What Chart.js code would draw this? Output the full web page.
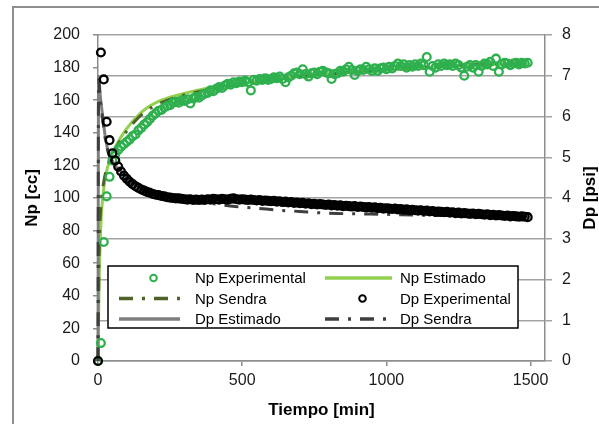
<!DOCTYPE html>
<html>
<head>
<meta charset="utf-8">
<script src="https://cdn.jsdelivr.net/npm/chart.js@4/dist/chart.umd.min.js"></script>
<style>
  html, body { margin: 0; padding: 0; background: #fff; }
  #wrap { width: 599px; height: 424px; }
</style>
</head>
<body>
<div id="wrap"><canvas id="c" width="599" height="424"></canvas></div>
<script>
// Sampling times of the measurements [min]
const timeExp = [
  0, 10, 20, 30, 40, 50, 60, 70, 80, 90,
  100, 110, 120, 130, 140, 150, 160, 170, 180, 190,
  200, 210, 220, 230, 240, 250, 260, 270, 280, 290,
  300, 310, 320, 330, 340, 350, 360, 370, 380, 390,
  400, 410, 420, 430, 440, 450, 460, 470, 480, 490,
  500, 510, 520, 530, 540, 550, 560, 570, 580, 590,
  600, 610, 620, 630, 640, 650, 660, 670, 680, 690,
  700, 710, 720, 730, 740, 750, 760, 770, 780, 790,
  800, 810, 820, 830, 840, 850, 860, 870, 880, 890,
  900, 910, 920, 930, 940, 950, 960, 970, 980, 990,
  1000, 1010, 1020, 1030, 1040, 1050, 1060, 1070, 1080, 1090,
  1100, 1110, 1120, 1130, 1140, 1150, 1160, 1170, 1180, 1190,
  1200, 1210, 1220, 1230, 1240, 1250, 1260, 1270, 1280, 1290,
  1300, 1310, 1320, 1330, 1340, 1350, 1360, 1370, 1380, 1390,
  1400, 1410, 1420, 1430, 1440, 1450, 1460, 1470, 1480, 1490
];

// Produced volume, measured [cc]
const npExp = [
  0, 11, 73, 101, 113, 123, 127, 129.5, 131.5, 133,
  134.5, 136, 138, 139, 141.5, 143, 145, 146.5, 148.5, 150.5,
  152, 153.5, 154, 155.5, 156.5, 157, 158.5, 159, 158.5, 160,
  159.5, 160.5, 158, 161, 162, 161.5, 163, 164, 164.5, 166,
  165.5, 167, 168, 167.5, 169, 170, 169.5, 171, 170.5, 171.5,
  171, 172, 171, 166, 172.5, 172, 173, 172.5, 173.5, 172.5,
  173, 174, 173.5, 174.5, 173, 171, 174, 175, 176.5, 177,
  176, 179, 176, 174.5, 176.5, 177, 176, 177.5, 178, 177,
  176.5, 173, 176, 176.5, 178, 177.5, 179, 180.5, 178.5, 175.5,
  178, 179, 178.5, 180.5, 179, 178, 179.5, 178, 179.5, 180,
  179, 180.5, 179.5, 181, 182.5, 181, 182, 180, 181.5, 180.5,
  182, 181, 182.5, 181.5, 186.5, 177.5, 181, 180, 182, 181,
  182.5, 181.5, 182, 181, 182.5, 181.5, 180, 175, 180.5, 181.5,
  180, 181.5, 177.5, 181, 182.5, 182, 183.5, 181, 185.5, 177.5,
  182, 183, 182.5, 181.5, 182.5, 183, 182, 183, 182.5, 183
];

// Pressure drop, measured [psi]
const dpExp = [
  0, 7.57, 6.91, 5.87, 5.42, 5.10, 4.92, 4.77, 4.65, 4.55,
  4.47, 4.40, 4.34, 4.29, 4.25, 4.21, 4.18, 4.15, 4.13, 4.10,
  4.08, 4.07, 4.05, 4.04, 4.02, 4.01, 4.00, 3.99, 3.99, 3.98,
  3.97, 3.96, 3.97, 3.95, 3.96, 3.95, 3.96, 3.95, 3.97, 3.96,
  3.98, 3.97, 3.96, 3.98, 3.97, 3.96, 3.98, 3.99, 3.97, 3.96,
  3.97, 3.96, 3.95, 3.96, 3.95, 3.94, 3.95, 3.93, 3.94, 3.93,
  3.92, 3.93, 3.91, 3.92, 3.90, 3.91, 3.89, 3.90, 3.88, 3.89,
  3.87, 3.88, 3.86, 3.87, 3.85, 3.86, 3.84, 3.85, 3.84, 3.83,
  3.84, 3.82, 3.83, 3.81, 3.82, 3.80, 3.81, 3.80, 3.79, 3.80,
  3.78, 3.79, 3.78, 3.77, 3.78, 3.76, 3.77, 3.75, 3.76, 3.74,
  3.75, 3.74, 3.73, 3.74, 3.72, 3.73, 3.71, 3.72, 3.70, 3.71,
  3.70, 3.69, 3.70, 3.68, 3.69, 3.67, 3.68, 3.66, 3.67, 3.66,
  3.65, 3.66, 3.64, 3.65, 3.63, 3.64, 3.62, 3.63, 3.62, 3.61,
  3.62, 3.60, 3.61, 3.60, 3.59, 3.60, 3.58, 3.59, 3.57, 3.58,
  3.57, 3.56, 3.57, 3.55, 3.56, 3.55, 3.54, 3.55, 3.54, 3.53
];

// Fitted model (Estimado) and Sendra simulation curves
const timeNpEst = [0, 3, 9, 20, 45, 80, 115, 160, 220, 275, 370, 500, 600, 700, 800, 900, 1000, 1100, 1200, 1300, 1400, 1490];
const npEst     = [0, 40, 80, 106, 125, 137.5, 146, 154, 160, 163, 167, 170.5, 172.5, 174.5, 176, 177.5, 178.5, 179.5, 180.5, 181.5, 182, 182.5];

const timeNpSendra = [0, 2, 5, 10, 20, 45, 80, 115, 160, 220, 275, 370, 500, 600, 700, 800, 900, 1000, 1100, 1200, 1300, 1400, 1490];
const npSendra     = [0, 40, 75, 95, 110, 125, 136, 144.5, 152.5, 158.5, 162, 166, 170, 172.5, 174.5, 176, 177.5, 179, 180, 181, 182, 182.5, 183];

const timeDpEst = [0, 2, 8, 15, 27, 38, 55, 75, 100, 140, 200, 280, 400, 500, 600, 700, 800, 900, 1000, 1100, 1200, 1300, 1400, 1490];
const dpEst     = [0, 6.98, 6.5, 6.08, 5.42, 5.10, 4.85, 4.68, 4.5, 4.3, 4.13, 4.02, 3.97, 3.95, 3.92, 3.88, 3.84, 3.80, 3.75, 3.71, 3.67, 3.62, 3.58, 3.54];

const timeDpSendra = [0, 2, 8, 15, 27, 38, 55, 75, 100, 140, 200, 280, 400, 475, 550, 625, 700, 760, 830, 910, 1000, 1100, 1200, 1300, 1400, 1490];
const dpSendra     = [0, 6.9, 6.4, 6.0, 5.38, 5.06, 4.82, 4.64, 4.46, 4.27, 4.1, 3.97, 3.86, 3.79, 3.75, 3.70, 3.67, 3.64, 3.62, 3.61, 3.60, 3.58, 3.57, 3.56, 3.55, 3.54];

// Axis ticks
const xTicks  = [0, 500, 1000, 1500];
const npTicks = [0, 20, 40, 60, 80, 100, 120, 140, 160, 180, 200];
const dpTicks = [0, 1, 2, 3, 4, 5, 6, 7, 8];

const pts = (xs, ys) => xs.map((x, i) => ({ x: x, y: ys[i] }));

const FONT = "'Liberation Sans', Arial, sans-serif";
Chart.defaults.font.family = FONT;
Chart.defaults.color = '#1a1a1a';

const GREEN = '#2fb04e';
const LIGHT_GREEN = '#92d050';
const OLIVE = '#4f6228';
const GRAY = '#7f7f7f';
const DARK_GRAY = '#3f3f3f';
const DASH_DOT = [14, 9, 3, 9];
const AXIS_COLOR = '#8c8c8c';

// Outer frame of the figure
const framePlugin = {
  id: 'frame',
  beforeDraw(chart) {
    const ctx = chart.ctx;
    ctx.save();
    ctx.fillStyle = '#fff';
    ctx.fillRect(0, 0, chart.width, chart.height);
    ctx.strokeStyle = '#8f8f8f';
    ctx.lineWidth = 2;
    ctx.strokeRect(13, 7, chart.width + 20, chart.height + 20);
    ctx.restore();
  }
};

// Secondary axis title, read bottom-to-top
const rightTitlePlugin = {
  id: 'rightTitle',
  afterDraw(chart) {
    const ctx = chart.ctx;
    const s = chart.scales.y1;
    ctx.save();
    ctx.translate(s.right - 9, (s.top + s.bottom) / 2);
    ctx.rotate(-Math.PI / 2);
    ctx.font = "bold 17px " + FONT;
    ctx.fillStyle = '#000';
    ctx.textAlign = 'center';
    ctx.textBaseline = 'middle';
    ctx.fillText('Dp [psi]', 0, 0);
    ctx.restore();
  }
};

// Boxed two-column legend inside the plot area
const boxLegendPlugin = {
  id: 'boxLegend',
  afterDraw(chart) {
    const ctx = chart.ctx;
    const ca = chart.chartArea;
    const left = ca.left + 10, bottom = ca.bottom - 33;
    const w = 410, h = 62, top = bottom - h;
    ctx.save();
    ctx.fillStyle = '#fff';
    ctx.fillRect(left, top, w, h);
    ctx.strokeStyle = '#000';
    ctx.lineWidth = 1.5;
    ctx.strokeRect(left, top, w, h);
    const cols = [
      { x0: left + 11, x1: left + 72, tx: left + 87 },
      { x0: left + 217, x1: left + 284, tx: left + 292 }
    ];
    ctx.font = "15px " + FONT;
    ctx.textBaseline = 'middle';
    ctx.textAlign = 'left';
    chart.data.datasets.forEach((ds, i) => {
      const col = cols[i % 2];
      const y = top + 12 + Math.floor(i / 2) * 20.5;
      if (ds.showLine) {
        ctx.save();
        ctx.strokeStyle = ds.borderColor;
        ctx.lineWidth = ds.borderWidth + 0.5;
        ctx.setLineDash(ds.borderDash || []);
        ctx.beginPath();
        ctx.moveTo(col.x0, y);
        ctx.lineTo(col.x1, y);
        ctx.stroke();
        ctx.restore();
      } else {
        ctx.save();
        ctx.strokeStyle = ds.pointBorderColor;
        ctx.lineWidth = 2;
        ctx.beginPath();
        ctx.arc((col.x0 + col.x1) / 2 + 4, y, 3.3, 0, Math.PI * 2);
        ctx.stroke();
        ctx.restore();
      }
      ctx.fillStyle = '#000';
      ctx.fillText(ds.label, col.tx, y + 1);
    });
    ctx.restore();
  }
};

const markers = (label, xs, ys, color, axis, order) => ({
  label, data: pts(xs, ys), yAxisID: axis, showLine: false,
  pointStyle: 'circle', pointRadius: 3.9, pointBorderWidth: 2.3,
  pointBorderColor: color, pointBackgroundColor: 'rgba(0,0,0,0)',
  pointHoverRadius: 3.9, order, clip: false
});
const curve = (label, xs, ys, color, axis, order, dash) => ({
  label, data: pts(xs, ys), yAxisID: axis, showLine: true,
  borderColor: color, borderWidth: 3, borderDash: dash || [],
  pointRadius: 0, cubicInterpolationMode: 'monotone', order, clip: false
});

new Chart(document.getElementById('c'), {
  type: 'scatter',
  data: {
    datasets: [
      markers('Np Experimental', timeExp, npExp, GREEN, 'y', 1),
      curve('Np Estimado', timeNpEst, npEst, LIGHT_GREEN, 'y', 5),
      curve('Np Sendra', timeNpSendra, npSendra, OLIVE, 'y', 4, DASH_DOT),
      markers('Dp Experimental', timeExp, dpExp, '#000', 'y1', 0),
      curve('Dp Estimado', timeDpEst, dpEst, GRAY, 'y1', 3),
      curve('Dp Sendra', timeDpSendra, dpSendra, DARK_GRAY, 'y1', 2, DASH_DOT)
    ]
  },
  options: {
    responsive: false,
    animation: false,
    devicePixelRatio: 1,
    layout: { padding: { top: 35, left: 0, right: 0, bottom: 0 } },
    plugins: { legend: { display: false }, tooltip: { enabled: false } },
    scales: {
      x: {
        type: 'linear', position: 'bottom', min: 0, max: 1550,
        afterBuildTicks: s => { s.ticks = xTicks.map(v => ({ value: v })); },
        afterFit: s => { s.height = 63; },
        ticks: { padding: 5, font: { size: 16 }, maxRotation: 0, autoSkip: false, callback: v => String(v) },
        grid: { drawOnChartArea: false, drawTicks: true, tickLength: 5, color: AXIS_COLOR, lineWidth: 1.5 },
        border: { color: AXIS_COLOR, width: 1.5 },
        title: { display: true, text: 'Tiempo [min]', color: '#000', font: { size: 17, weight: 'bold' }, padding: { top: 0, bottom: 3 } }
      },
      y: {
        position: 'left', min: 0, max: 200,
        afterBuildTicks: s => { s.ticks = npTicks.map(v => ({ value: v })); },
        afterFit: s => { s.width = 98; },
        ticks: { padding: 13, font: { size: 16 }, autoSkip: false, callback: v => String(v) },
        grid: { drawOnChartArea: false, drawTicks: true, tickLength: 5, color: AXIS_COLOR, lineWidth: 1.5 },
        border: { color: AXIS_COLOR, width: 1.5 },
        title: { display: true, text: 'Np [cc]', color: '#000', font: { size: 17, weight: 'bold' }, padding: { top: 22, bottom: 0 } }
      },
      y1: {
        position: 'right', min: 0, max: 8,
        afterBuildTicks: s => { s.ticks = dpTicks.map(v => ({ value: v })); },
        afterFit: s => { s.width = 54; },
        ticks: { padding: 10, font: { size: 16 }, autoSkip: false, callback: v => String(v) },
        grid: { drawOnChartArea: true, drawTicks: true, tickLength: 7, color: '#a3a3a3', lineWidth: 1.5 },
        border: { color: AXIS_COLOR, width: 1.5 }
      }
    }
  },
  plugins: [framePlugin, rightTitlePlugin, boxLegendPlugin]
});
</script>
</body>
</html>
